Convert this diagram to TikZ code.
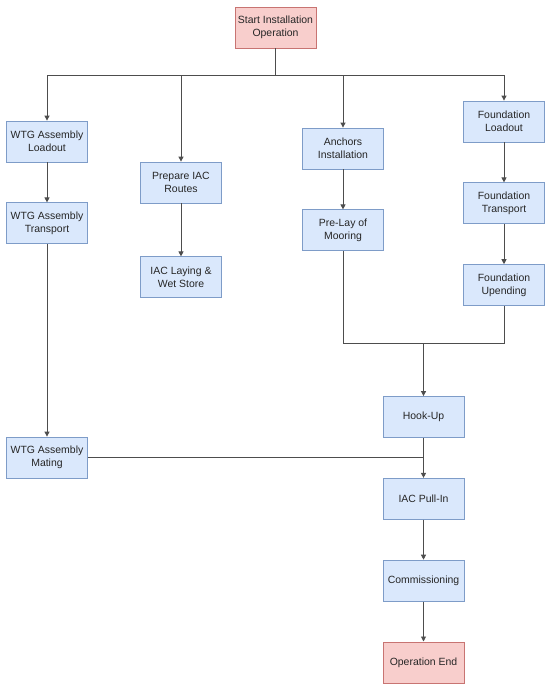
\documentclass[tikz,border=0pt]{standalone}
\usepackage{fontspec}
\setmainfont{Liberation Sans}
\usepackage{tikz}
\usetikzlibrary{arrows.meta,positioning}
\usepackage{xcolor}
\definecolor{Line}{HTML}{4D4D4D}
\definecolor{BlueFill}{HTML}{DAE8FC}
\definecolor{BlueRule}{HTML}{7E9CC8}
\definecolor{RedFill}{HTML}{F8CECC}
\definecolor{RedRule}{HTML}{C87472}

\begin{document}
\begin{tikzpicture}[
  x=1bp,y=-1bp,
  node distance=40bp and 40bp,
  box/.style={draw=BlueRule,thick,fill=BlueFill,minimum width=81bp,minimum height=41bp,inner sep=0pt,align=center,font=\fontsize{10.5}{12.7}\selectfont,text=black!85},
  terminal/.style={box,draw=RedRule,fill=RedFill},
  arrow/.style={-{Triangle[length=5bp,width=5bp]},draw=Line,line width=0.9bp},
  link/.style={draw=Line,line width=0.9bp}
]
\useasboundingbox (0,0) rectangle (550,685);

\node[terminal] (start) at (275.5,27.5) {Start Installation\\Operation};
\node[box] (wtgload) at (47,141.5) {WTG Assembly\\Loadout};
\node[box,below=of wtgload] (wtgtrans) {WTG Assembly\\Transport};
\node[box] (mating) at (47,457.5) {WTG Assembly\\Mating};
\node[box] (prepiac) at (181,182.5) {Prepare IAC\\Routes};
\node[box,below=53bp of prepiac] (iaclay) {IAC Laying \&\\Wet Store};
\node[box] (anchors) at (343,148.5) {Anchors\\Installation};
\node[box,below=of anchors] (prelay) {Pre-Lay of\\Mooring};
\node[box] (fload) at (504,121.5) {Foundation\\Loadout};
\node[box,below=of fload] (ftrans) {Foundation\\Transport};
\node[box,below=of ftrans] (fupend) {Foundation\\Upending};
\node[box] (hookup) at (423.5,417) {Hook-Up};
\node[box,below=of hookup] (pullin) {IAC Pull-In};
\node[box,below=of pullin] (commis) {Commissioning};
\node[terminal,below=of commis] (opend) {Operation End};

\coordinate (split) at (275.5,75);
\coordinate (join) at (423.5,343);
\coordinate (meet) at (423.5,457.5);

\draw[link] (start)--(split);
\draw[arrow] (split)-|(wtgload);
\draw[arrow] (split)-|(prepiac);
\draw[arrow] (split)-|(anchors);
\draw[arrow] (split)-|(fload);
\draw[arrow] (wtgload)--(wtgtrans);
\draw[arrow] (wtgtrans)--(mating);
\draw[arrow] (prepiac)--(iaclay);
\draw[arrow] (anchors)--(prelay);
\draw[arrow] (fload)--(ftrans);
\draw[arrow] (ftrans)--(fupend);
\draw[link] (prelay)|-(join);
\draw[link] (fupend)|-(join);
\draw[arrow] (join)--(hookup);
\draw[link] (mating)--(meet);
\draw[arrow] (hookup)--(pullin);
\draw[arrow] (pullin)--(commis);
\draw[arrow] (commis)--(opend);
\end{tikzpicture}
\end{document}
